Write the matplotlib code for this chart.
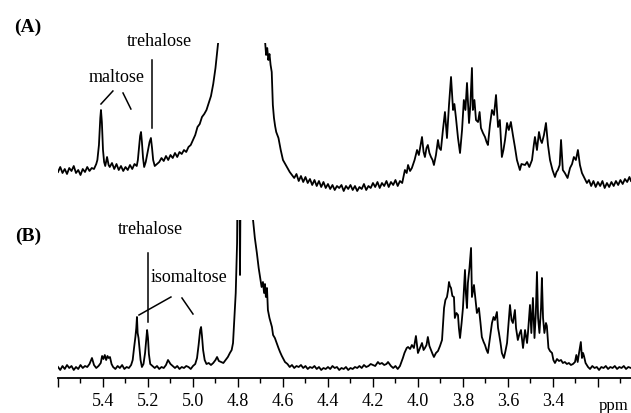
import matplotlib
matplotlib.use("Agg")
import matplotlib.pyplot as plt

# spectrum (A): chemical shift (ppm) and intensity
ppm_a = [5.600, 5.590, 5.580, 5.570, 5.560, 5.550, 5.540, 5.530, 5.520, 5.510,
         5.500, 5.490, 5.480, 5.470, 5.460, 5.450, 5.440, 5.430, 5.425, 5.418,
         5.412, 5.409, 5.405, 5.400, 5.395, 5.390, 5.382, 5.375, 5.370, 5.360,
         5.350, 5.340, 5.330, 5.320, 5.310, 5.300, 5.290, 5.280, 5.270, 5.260,
         5.250, 5.245, 5.240, 5.235, 5.231, 5.227, 5.222, 5.217, 5.210, 5.200,
         5.193, 5.187, 5.182, 5.177, 5.170, 5.160, 5.150, 5.140, 5.130, 5.120,
         5.110, 5.100, 5.090, 5.080, 5.070, 5.060, 5.050, 5.040, 5.030, 5.020,
         5.010, 5.000, 4.990, 4.980, 4.970, 4.960, 4.950, 4.940, 4.930, 4.920,
         4.910, 4.900, 4.890, 4.880, 4.860, 4.700, 4.685, 4.680, 4.675, 4.670,
         4.665, 4.660, 4.655, 4.650, 4.645, 4.640, 4.635, 4.630, 4.620, 4.610,
         4.600, 4.590, 4.580, 4.570, 4.560, 4.550, 4.540, 4.530, 4.520, 4.510,
         4.500, 4.490, 4.480, 4.470, 4.460, 4.450, 4.440, 4.430, 4.420, 4.410,
         4.400, 4.390, 4.380, 4.370, 4.360, 4.350, 4.340, 4.330, 4.320, 4.310,
         4.300, 4.290, 4.280, 4.270, 4.260, 4.250, 4.240, 4.230, 4.220, 4.210,
         4.200, 4.190, 4.180, 4.170, 4.160, 4.150, 4.140, 4.130, 4.120, 4.110,
         4.100, 4.090, 4.080, 4.070, 4.058, 4.050, 4.044, 4.035, 4.027, 4.015,
         4.004, 3.996, 3.989, 3.982, 3.975, 3.969, 3.962, 3.956, 3.949, 3.942,
         3.935, 3.929, 3.920, 3.911, 3.905, 3.898, 3.889, 3.880, 3.871, 3.862,
         3.853, 3.848, 3.844, 3.838, 3.831, 3.822, 3.813, 3.804, 3.796, 3.789,
         3.782, 3.778, 3.773, 3.767, 3.760, 3.756, 3.749, 3.742, 3.733, 3.726,
         3.720, 3.711, 3.702, 3.695, 3.689, 3.680, 3.671, 3.662, 3.653, 3.648,
         3.644, 3.636, 3.627, 3.620, 3.613, 3.604, 3.596, 3.587, 3.578, 3.569,
         3.560, 3.547, 3.540, 3.524, 3.515, 3.505, 3.493, 3.485, 3.480, 3.471,
         3.462, 3.455, 3.449, 3.440, 3.431, 3.422, 3.413, 3.402, 3.391, 3.384,
         3.378, 3.370, 3.364, 3.356, 3.347, 3.335, 3.324, 3.315, 3.307, 3.298,
         3.289, 3.280, 3.271, 3.260, 3.249, 3.240, 3.230, 3.220, 3.210, 3.200,
         3.190, 3.180, 3.170, 3.160, 3.150, 3.140, 3.130, 3.120, 3.110, 3.100,
         3.090, 3.080, 3.070, 3.060, 3.053]
int_a = [28, 33, 27, 31, 26, 32, 29, 34, 27, 30,
         25, 31, 28, 33, 29, 32, 31, 36, 40, 55,
         82, 90, 78, 50, 38, 34, 43, 35, 33, 37,
         31, 36, 30, 34, 29, 33, 30, 35, 31, 36,
         34, 40, 52, 64, 68, 58, 42, 33, 38, 50,
         58, 62, 52, 40, 34, 36, 38, 42, 39, 44,
         40, 45, 42, 47, 43, 48, 46, 50, 48, 53,
         55, 60, 65, 73, 76, 83, 86, 90, 97, 104,
         116, 132, 153, 175, 250, 250, 250, 160, 145, 152,
         140, 146, 135, 128, 95, 82, 74, 68, 62, 50,
         40, 36, 32, 28, 25, 22, 26, 19, 24, 18,
         23, 17, 21, 15, 20, 14, 19, 13, 18, 12,
         16, 11, 15, 10, 14, 12, 15, 9, 14, 11,
         15, 10, 14, 9, 13, 11, 16, 10, 14, 12,
         17, 13, 18, 12, 17, 14, 19, 13, 18, 15,
         20, 14, 19, 17, 30, 27, 35, 29, 32, 40,
         50, 45, 54, 63, 48, 43, 52, 55, 47, 43,
         40, 35, 45, 60, 52, 50, 70, 88, 62, 95,
         123, 105, 90, 96, 82, 62, 47, 70, 100, 90,
         117, 100, 77, 95, 132, 90, 100, 80, 78, 88,
         72, 67, 63, 58, 55, 75, 90, 85, 105, 88,
         73, 80, 43, 50, 60, 77, 70, 78, 65, 53,
         40, 30, 36, 35, 38, 33, 40, 55, 63, 50,
         68, 60, 57, 65, 77, 55, 40, 30, 23, 28,
         30, 35, 60, 30, 27, 22, 32, 36, 43, 40,
         50, 35, 27, 22, 17, 20, 14, 19, 13, 18,
         14, 19, 12, 17, 13, 18, 14, 19, 15, 20,
         16, 21, 18, 23, 19]

# spectrum (B)
ppm_b = [5.600, 5.590, 5.580, 5.570, 5.560, 5.550, 5.540, 5.530, 5.520, 5.510,
         5.500, 5.490, 5.480, 5.470, 5.460, 5.449, 5.440, 5.430, 5.420, 5.410,
         5.404, 5.398, 5.392, 5.386, 5.380, 5.375, 5.369, 5.362, 5.355, 5.345,
         5.335, 5.325, 5.315, 5.305, 5.295, 5.285, 5.275, 5.268, 5.262, 5.256,
         5.252, 5.249, 5.246, 5.242, 5.238, 5.233, 5.227, 5.220, 5.213, 5.208,
         5.204, 5.200, 5.196, 5.190, 5.180, 5.170, 5.160, 5.150, 5.140, 5.130,
         5.120, 5.111, 5.100, 5.090, 5.080, 5.070, 5.060, 5.050, 5.040, 5.030,
         5.020, 5.010, 5.000, 4.990, 4.982, 4.975, 4.968, 4.964, 4.960, 4.955,
         4.948, 4.940, 4.930, 4.920, 4.910, 4.900, 4.893, 4.885, 4.875, 4.865,
         4.855, 4.845, 4.836, 4.828, 4.822, 4.816, 4.810, 4.804, 4.800, 4.795,
         4.791, 4.787, 4.740, 4.733, 4.725, 4.716, 4.708, 4.702, 4.695, 4.689,
         4.684, 4.680, 4.676, 4.671, 4.667, 4.660, 4.655, 4.649, 4.644, 4.636,
         4.628, 4.620, 4.613, 4.605, 4.598, 4.591, 4.580, 4.570, 4.560, 4.550,
         4.540, 4.530, 4.520, 4.510, 4.500, 4.490, 4.480, 4.470, 4.460, 4.450,
         4.440, 4.430, 4.420, 4.410, 4.400, 4.390, 4.380, 4.370, 4.360, 4.350,
         4.340, 4.330, 4.320, 4.310, 4.300, 4.290, 4.280, 4.270, 4.260, 4.250,
         4.240, 4.230, 4.220, 4.210, 4.200, 4.190, 4.178, 4.170, 4.160, 4.150,
         4.140, 4.133, 4.120, 4.110, 4.100, 4.090, 4.080, 4.067, 4.060, 4.050,
         4.044, 4.035, 4.027, 4.018, 4.009, 4.000, 3.991, 3.982, 3.975, 3.969,
         3.962, 3.956, 3.949, 3.942, 3.935, 3.929, 3.920, 3.911, 3.902, 3.893,
         3.884, 3.878, 3.871, 3.866, 3.862, 3.858, 3.853, 3.847, 3.840, 3.836,
         3.829, 3.822, 3.818, 3.813, 3.806, 3.800, 3.791, 3.787, 3.782, 3.778,
         3.771, 3.764, 3.760, 3.755, 3.751, 3.745, 3.738, 3.729, 3.722, 3.716,
         3.708, 3.702, 3.695, 3.689, 3.680, 3.671, 3.664, 3.658, 3.649, 3.644,
         3.640, 3.633, 3.627, 3.618, 3.611, 3.604, 3.597, 3.591, 3.584, 3.578,
         3.569, 3.564, 3.556, 3.549, 3.542, 3.533, 3.524, 3.515, 3.511, 3.502,
         3.496, 3.489, 3.482, 3.476, 3.471, 3.466, 3.460, 3.453, 3.449, 3.444,
         3.438, 3.431, 3.427, 3.420, 3.413, 3.404, 3.398, 3.391, 3.382, 3.373,
         3.364, 3.356, 3.347, 3.338, 3.329, 3.320, 3.311, 3.302, 3.296, 3.290,
         3.284, 3.276, 3.271, 3.266, 3.262, 3.255, 3.244, 3.235, 3.225, 3.215,
         3.205, 3.195, 3.185, 3.175, 3.165, 3.155, 3.145, 3.135, 3.125, 3.115,
         3.105, 3.095, 3.085, 3.075, 3.065, 3.053]
int_b = [11, 8, 12, 9, 13, 10, 12, 8, 11, 9,
         13, 10, 12, 11, 14, 20, 13, 10, 12, 15,
         22, 19, 23, 18, 22, 20, 21, 14, 11, 9,
         12, 10, 13, 9, 11, 10, 13, 18, 30, 41,
         50, 61, 45, 40, 30, 18, 11, 14, 25, 38,
         48, 40, 24, 14, 12, 10, 12, 9, 11, 10,
         13, 18, 14, 12, 10, 12, 9, 11, 10, 12,
         11, 9, 12, 14, 20, 33, 48, 51, 42, 28,
         18, 14, 15, 13, 15, 18, 21, 17, 16, 15,
         18, 21, 25, 28, 35, 60, 85, 135, 250, 250,
         103, 250, 250, 158, 140, 125, 110, 101, 91, 96,
         85, 94, 81, 90, 68, 60, 56, 51, 43, 40,
         35, 30, 26, 22, 19, 16, 14, 11, 13, 10,
         12, 11, 13, 10, 12, 9, 11, 10, 12, 9,
         11, 8, 10, 9, 11, 9, 12, 10, 11, 8,
         10, 9, 11, 8, 10, 9, 11, 10, 12, 10,
         13, 11, 12, 14, 13, 12, 16, 14, 15, 13,
         14, 16, 12, 10, 12, 9, 12, 20, 25, 30,
         31, 29, 33, 30, 42, 25, 30, 35, 28, 30,
         33, 41, 32, 28, 24, 21, 25, 27, 32, 38,
         70, 78, 81, 88, 96, 92, 90, 82, 81, 60,
         65, 63, 50, 40, 55, 70, 108, 85, 70, 95,
         110, 130, 81, 88, 93, 80, 65, 70, 55, 41,
         36, 33, 28, 25, 40, 55, 61, 58, 66, 50,
         45, 35, 25, 20, 27, 35, 55, 73, 58, 55,
         68, 50, 38, 44, 48, 30, 48, 35, 45, 73,
         45, 80, 40, 65, 106, 60, 45, 70, 100, 60,
         45, 55, 52, 30, 27, 25, 18, 15, 19, 17,
         18, 15, 16, 14, 15, 13, 14, 16, 23, 16,
         25, 36, 20, 25, 22, 15, 11, 9, 12, 10,
         11, 8, 11, 10, 12, 9, 11, 10, 12, 9,
         11, 10, 12, 9, 11, 10]

tick_ppm = [5.6, 5.4, 5.2, 5.0, 4.8, 4.6, 4.4, 4.2, 4.0, 3.8, 3.6, 3.4, 3.2]
tick_labels = ["", "5.4", "5.2", "5.0", "4.8", "4.6", "4.4", "4.2", "4.0",
               "3.8", "3.6", "3.4", ""]
minor_ppm = [5.5, 5.3, 5.1, 4.9, 4.7, 4.5, 4.3, 4.1, 3.9, 3.7, 3.5, 3.3, 3.1]

plt.rcParams['font.family'] = ['Liberation Serif', 'DejaVu Serif']

fig = plt.figure(figsize=(6.31, 4.13), dpi=100)
ax_a = fig.add_axes([58 / 631, 213 / 413, 1 - 58 / 631, 157 / 413])
ax_b = fig.add_axes([58 / 631, 35 / 413, 1 - 58 / 631, 158 / 413])

for ax in (ax_a, ax_b):
    ax.set_xlim(5.6, 3.053)
    ax.set_yticks([])
    for side in ['top', 'left', 'right']:
        ax.spines[side].set_visible(False)
    ax.patch.set_alpha(0)

ax_a.set_ylim(0, 157)
ax_a.spines['bottom'].set_visible(False)
ax_a.set_xticks([])
ax_b.set_ylim(0, 158)

ax_a.plot(ppm_a, int_a, color='black', lw=1.3)
ax_b.plot(ppm_b, int_b, color='black', lw=1.3)

# ppm axis
ax_b.spines['bottom'].set_linewidth(1.3)
ax_b.set_xticks(tick_ppm)
ax_b.set_xticklabels(tick_labels, fontsize=13)
ax_b.set_xticks(minor_ppm, minor=True)
ax_b.tick_params(axis='x', which='major', direction='out', length=6.5, width=1.0, pad=4)
ax_b.tick_params(axis='x', which='minor', direction='out', length=3.5, width=1.0)
fig.text(628 / 631, 1 - 406 / 413, "ppm", fontsize=12, ha='right', va='center')

# panel letters
fig.text(28 / 631, 1 - 27 / 413, "(A)", fontsize=14, fontweight='bold', ha='center', va='center')
fig.text(28 / 631, 1 - 236 / 413, "(B)", fontsize=14, fontweight='bold', ha='center', va='center')

# annotations (A)
ax_a.text(5.151, 159, "trehalose", fontsize=13, ha='center', va='center')
ax_a.text(5.338, 123, "maltose", fontsize=13, ha='center', va='center')
ax_a.plot([5.356, 5.409], [109, 96], color='black', lw=1.1, clip_on=False)
ax_a.plot([5.311, 5.276], [107, 91], color='black', lw=1.1, clip_on=False)
ax_a.plot([5.182, 5.182], [140, 72], color='black', lw=1.1, clip_on=False)

# annotations (B)
ax_b.text(5.191, 149, "trehalose", fontsize=13, ha='center', va='center')
ax_b.text(5.018, 101, "isomaltose", fontsize=13, ha='center', va='center')
ax_b.plot([5.2, 5.2], [125, 56], color='black', lw=1.1, clip_on=False)
ax_b.plot([5.098, 5.24], [81, 63], color='black', lw=1.1, clip_on=False)
ax_b.plot([5.049, 5.0], [80, 64], color='black', lw=1.1, clip_on=False)

fig.savefig("out.png", dpi=100)
